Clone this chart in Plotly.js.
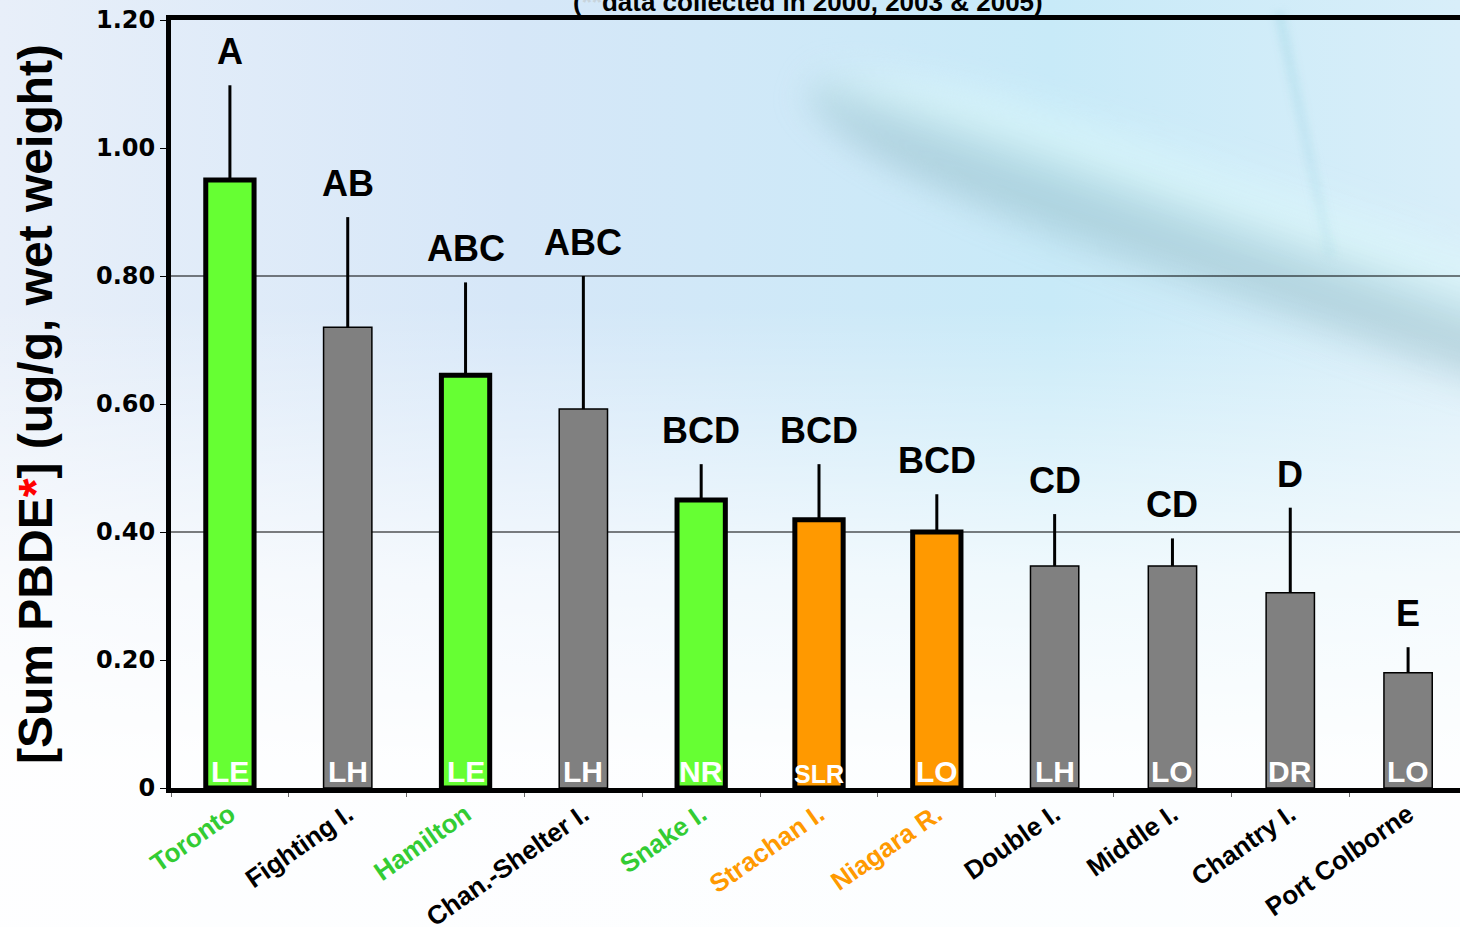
<!DOCTYPE html>
<html>
<head>
<meta charset="utf-8">
<script src="https://cdn.plot.ly/plotly-3.0.1.min.js"></script>
<style>
  html, body { margin:0; padding:0; width:1460px; height:927px; overflow:hidden; }
  body {
    position: relative;
    background:
      linear-gradient(to bottom, rgba(255,255,255,0) 0%, rgba(255,255,255,0) 33%, rgba(255,255,255,0.72) 62%, rgba(255,255,255,0.95) 82%),
      linear-gradient(to right, #e8eff9 0%, #d6e7f8 35%, #c8eaf8 72%, #d8eef9 100%);
  }
  #band {
    position: absolute; left: 780px; top: 177px; width: 1000px; height: 150px;
    transform: rotate(19deg); transform-origin: 500px 75px;
    border-radius: 50%;
    background: linear-gradient(to bottom, rgba(225,252,252,0) 0%, rgba(225,252,252,0.6) 28%, rgba(150,195,202,0.38) 52%, rgba(125,168,178,0.40) 72%, rgba(125,168,178,0) 100%);
    filter: blur(16px);
  }
  #streak {
    position: absolute; left: 1300px; top: 10px; width: 10px; height: 250px;
    transform: rotate(-12deg);
    background: linear-gradient(to bottom, rgba(110,190,205,0.22), rgba(110,190,205,0.10));
    filter: blur(4px);
  }
  #chart { position: absolute; left: 0; top: 0; width:1473px; height:927px; }
</style>
</head>
<body>
<div id="band"></div>
<div id="streak"></div>
<div id="chart"></div>
<script>
// ---- data ----
const sites   = ['Toronto','Fighting I.','Hamilton','Chan.-Shelter I.','Snake I.','Strachan I.','Niagara R.','Double I.','Middle I.','Chantry I.','Port Colborne'];
const regions = ['LE','LH','LE','LH','NR','SLR','LO','LH','LO','DR','LO'];
const sumPBDE = [0.95, 0.72, 0.645, 0.592, 0.45, 0.419, 0.40, 0.347, 0.347, 0.305, 0.18];
const errUp   = [0.148, 0.172, 0.145, 0.208, 0.056, 0.087, 0.059, 0.081, 0.043, 0.133, 0.04];
const groups  = ['A','AB','ABC','ABC','BCD','BCD','BCD','CD','CD','D','E'];
const yTickVals = [0, 0.2, 0.4, 0.6, 0.8, 1.0, 1.2];
const yTickText = ['0','0.20','0.40','0.60','0.80','1.00','1.20'];
const gridVals  = [0.4, 0.8];
const titleText = '(<span style="color:#c8d4dc">**</span>data collected in 2000, 2003 &amp; 2005)';

// ---- styles ----
const GREEN = '#66ff33', ORANGE = '#ff9900', GRAY = '#808080';
const barFill   = [GREEN, GRAY, GREEN, GRAY, GREEN, ORANGE, ORANGE, GRAY, GRAY, GRAY, GRAY];
const labelCol  = ['#33cc33','#000','#33cc33','#000','#33cc33','#ff9900','#ff9900','#000','#000','#000','#000'];
const lineW     = barFill.map(c => c === GRAY ? 1.5 : 5);
const regionSize = regions.map(r => r.length > 2 ? 25 : 30);

const FONT = 'Liberation Sans, Arial, sans-serif';
const ML = 171, MR = 6, W = 1473;

const trace = {
  type: 'bar',
  x: sites,
  y: sumPBDE,
  width: 0.41,
  marker: { color: barFill, line: { color: '#000', width: lineW } },
  error_y: { type: 'data', symmetric: false, array: errUp, arrayminus: sumPBDE.map(() => 0),
             color: '#000', thickness: 3, width: 0 },
  hoverinfo: 'x+y'
};

const annotations = [];
sites.forEach((s, i) => {
  annotations.push({
    x: s, y: sumPBDE[i] + errUp[i], xref: 'x', yref: 'y',
    text: groups[i], showarrow: false, yanchor: 'bottom', yshift: 11,
    font: { family: FONT, size: 36, color: '#000', weight: 'bold' }
  });
  annotations.push({
    x: s, y: 0, xref: 'x', yref: 'y',
    text: regions[i], showarrow: false, yanchor: 'bottom', yshift: -2,
    font: { family: FONT, size: regionSize[i], color: '#fff', weight: 'bold' }
  });
});
annotations.push({
  x: (808 - ML) / (W - ML - MR), y: 1, xref: 'paper', yref: 'paper',
  yanchor: 'bottom', yshift: 1,
  text: titleText, showarrow: false,
  font: { family: FONT, size: 26, color: '#000', weight: 'bold' }
});

const shapes = gridVals.map(v => ({
  type: 'line', xref: 'paper', yref: 'y', x0: 0, x1: 1, y0: v, y1: v,
  line: { color: '#000', width: 1.2 }, layer: 'below'
}));

const layout = {
  width: W, height: 927,
  margin: { l: ML, r: MR, t: 20, b: 139 },
  paper_bgcolor: 'rgba(0,0,0,0)',
  plot_bgcolor: 'rgba(0,0,0,0)',
  showlegend: false,
  xaxis: {
    type: 'category',
    range: [-0.5, 10.5],
    tickvals: sites,
    ticktext: sites.map((s, i) => '<span style="color:' + labelCol[i] + '">' + s + '</span>'),
    tickangle: -35,
    tickson: 'boundaries',
    ticks: 'outside', ticklen: 4, tickcolor: '#666', tickwidth: 1,
    ticklabelstandoff: -4,
    tickfont: { family: FONT, size: 26, color: '#000', weight: 'bold' },
    showline: true, linecolor: '#000', linewidth: 5, mirror: true,
    showgrid: false, zeroline: false, fixedrange: true
  },
  yaxis: {
    range: [0, 1.2],
    tickvals: yTickVals, ticktext: yTickText,
    ticks: 'outside', ticklen: 6, tickcolor: '#000', tickwidth: 1,
    tickfont: { family: 'DejaVu Sans, sans-serif', size: 24, color: '#000', weight: 'bold' },
    showline: true, linecolor: '#000', linewidth: 5,
    showgrid: false, zeroline: false, fixedrange: true,
    title: {
      text: '[Sum PBDE<span style="color:#ff0000">*</span>] (ug/g, wet weight)',
      font: { family: FONT, size: 48, color: '#000', weight: 'bold' },
      standoff: 30
    }
  },
  annotations: annotations,
  shapes: shapes,
  bargap: 0.59
};

Plotly.newPlot('chart', [trace], layout, { displayModeBar: false, staticPlot: true });
</script>
</body>
</html>
